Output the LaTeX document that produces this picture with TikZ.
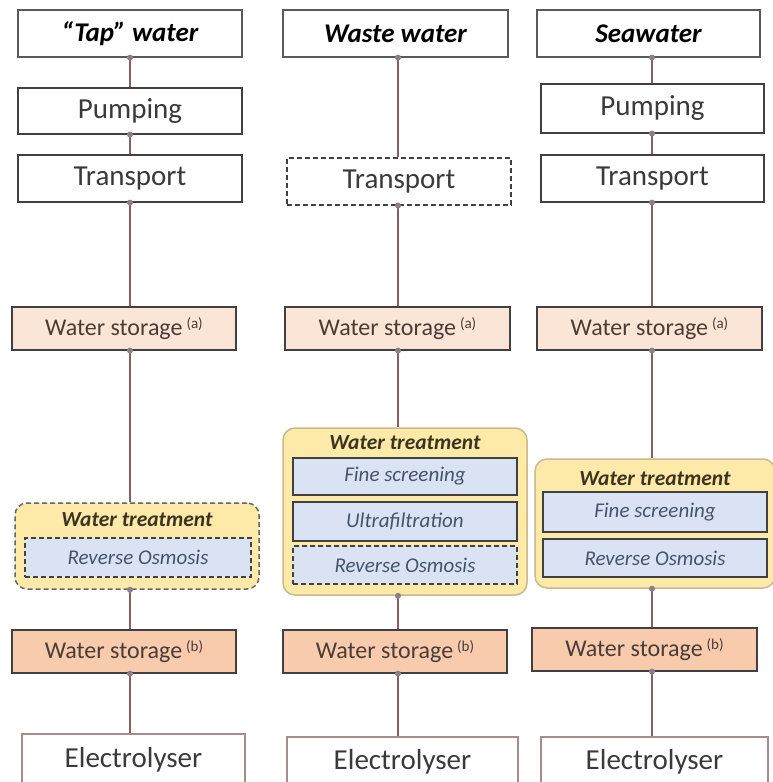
\documentclass[tikz,border=0pt]{standalone}
\usepackage{fontspec}
\setmainfont{Carlito}
\definecolor{boxc}{HTML}{404040}
\definecolor{titlec}{HTML}{5A5A5A}
\definecolor{txtc}{HTML}{3A3A3A}
\definecolor{stAfill}{HTML}{FBE5D6}
\definecolor{stBfill}{HTML}{F8CBAD}
\definecolor{sttxt}{HTML}{4A3C36}
\definecolor{trfill}{HTML}{FDE9A8}
\definecolor{trdraw}{HTML}{C9B98C}
\definecolor{infill}{HTML}{DAE3F3}
\definecolor{intxt}{HTML}{44546A}
\definecolor{hdtxt}{HTML}{3B3420}
\definecolor{elc}{HTML}{A88C8C}
\definecolor{linec}{HTML}{8B5E5E}
\definecolor{dotc}{HTML}{8C8088}
\newcommand{\supa}[1]{\,\raisebox{0.55ex}{\fontsize{15}{15}\selectfont(#1)}}
\tikzset{
  sz/.style 2 args={minimum width=#1pt, minimum height=#2pt},
  basebox/.style={rectangle, inner sep=0pt, line width=1.2pt},
  titlebox/.style={basebox, draw=titlec, fill=white, text=black,
    font=\fontsize{27}{30}\selectfont\bfseries\itshape},
  plainbox/.style={basebox, draw=boxc, fill=white, text=txtc,
    font=\fontsize{29}{32}\selectfont},
  stA/.style={basebox, draw=boxc, fill=stAfill, text=sttxt,
    font=\fontsize{24}{27}\selectfont},
  stB/.style={basebox, draw=boxc, fill=stBfill, text=sttxt,
    font=\fontsize{24}{27}\selectfont},
  elbox/.style={basebox, draw=elc, fill=white, text=txtc,
    font=\fontsize{29}{32}\selectfont},
  treat/.style={basebox, draw=trdraw, fill=trfill, line width=1.5pt, rounded corners=12pt},
  treatdash/.style={treat, draw=boxc!80, dash pattern=on 5pt off 3pt},
  hdr/.style={inner sep=0pt, text=hdtxt, font=\fontsize{21.5}{24}\selectfont\bfseries\itshape},
  inbox/.style={basebox, draw=boxc, fill=infill, text=intxt,
    font=\fontsize{21}{24}\selectfont\itshape},
  indash/.style={inbox, dash pattern=on 5pt off 3pt},
  conn/.style={draw=linec, line width=1.6pt},
  dot/.style={fill=dotc}
}
\begin{document}
\begin{tikzpicture}[x=1pt,y=-1pt]
\useasboundingbox (0,0) rectangle (773,782);

% column x positions of connectors
\coordinate (c1) at (130,0);
\coordinate (c2) at (398,0);
\coordinate (c3) at (652,0);

% ---------- Column 1 ----------
\node[titlebox, sz={224}{47}] (tap) at (130,33.5) {“Tap” water};
\node[plainbox, sz={224}{46}] (pump1) at (130,111) {Pumping};
\node[plainbox, sz={224}{47}] (trans1) at (130,178.5) {Transport};
\node[stA, sz={224}{43}] (stA1) at (124,328.5) {Water storage\supa{a}};
\node[treatdash, sz={244}{86}] (treat1) at (137,546) {};
\node[hdr] (hdr1) at (137,520) {Water treatment};
\node[indash, sz={226}{39}] (ro1) at (138,557.5) {Reverse Osmosis};
\node[stB, sz={224}{43}] (stB1) at (124,651.5) {Water storage\supa{b}};
\node[elbox, sz={223}{52}] (el1) at (133.5,760) {Electrolyser};

% ---------- Column 2 ----------
\node[titlebox, sz={225}{47}] (waste) at (395.5,33.5) {Waste water};
\node[plainbox, sz={224}{47}, dash pattern=on 5pt off 3pt] (trans2) at (399,181.5) {Transport};
\node[stA, sz={225}{43}] (stA2) at (397.5,328.5) {Water storage\supa{a}};
\node[treat, sz={244}{167}] (treat2) at (405,511.5) {};
\node[hdr] (hdr2) at (405,443) {Water treatment};
\node[inbox, sz={224}{37}] (fine2) at (405,476.5) {Fine screening};
\node[inbox, sz={224}{39}] (ultra2) at (405,521.5) {Ultrafiltration};
\node[indash, sz={224}{38}] (ro2) at (405,565) {Reverse Osmosis};
\node[stB, sz={224}{43}] (stB2) at (395,651.5) {Water storage\supa{b}};
\node[elbox, sz={231}{49}] (el2) at (402.5,761.5) {Electrolyser};

% ---------- Column 3 ----------
\node[titlebox, sz={223}{47}] (sea) at (648.5,33.5) {Seawater};
\node[plainbox, sz={223}{49}] (pump3) at (652.5,108.5) {Pumping};
\node[plainbox, sz={223}{47}] (trans3) at (652.5,178.5) {Transport};
\node[stA, sz={225}{43}] (stA3) at (649.5,328.5) {Water storage\supa{a}};
\node[treat, sz={240}{129}] (treat3) at (655,523.5) {};
\node[hdr] (hdr3) at (655,479) {Water treatment};
\node[inbox, sz={224}{40}] (fine3) at (655,512) {Fine screening};
\node[inbox, sz={224}{38}] (ro3) at (655,558) {Reverse Osmosis};
\node[stB, sz={225}{43}] (stB3) at (644.5,649.5) {Water storage\supa{b}};
\node[elbox, sz={227}{49}] (el3) at (654.5,761.5) {Electrolyser};

% ---------- Connectors ----------
\foreach \a/\b/\c in {tap/pump1/c1, pump1/trans1/c1, trans1/stA1/c1, stA1/treat1/c1, treat1/stB1/c1, stB1/el1/c1,
                      waste/trans2/c2, trans2/stA2/c2, stA2/treat2/c2, treat2/stB2/c2, stB2/el2/c2,
                      sea/pump3/c3, pump3/trans3/c3, trans3/stA3/c3, stA3/treat3/c3, treat3/stB3/c3, stB3/el3/c3}{
  \draw[conn] (\a.south -| \c) -- (\b.north -| \c);
  \fill[dot] (\a.south -| \c) circle (3pt);
}
\end{tikzpicture}
\end{document}
